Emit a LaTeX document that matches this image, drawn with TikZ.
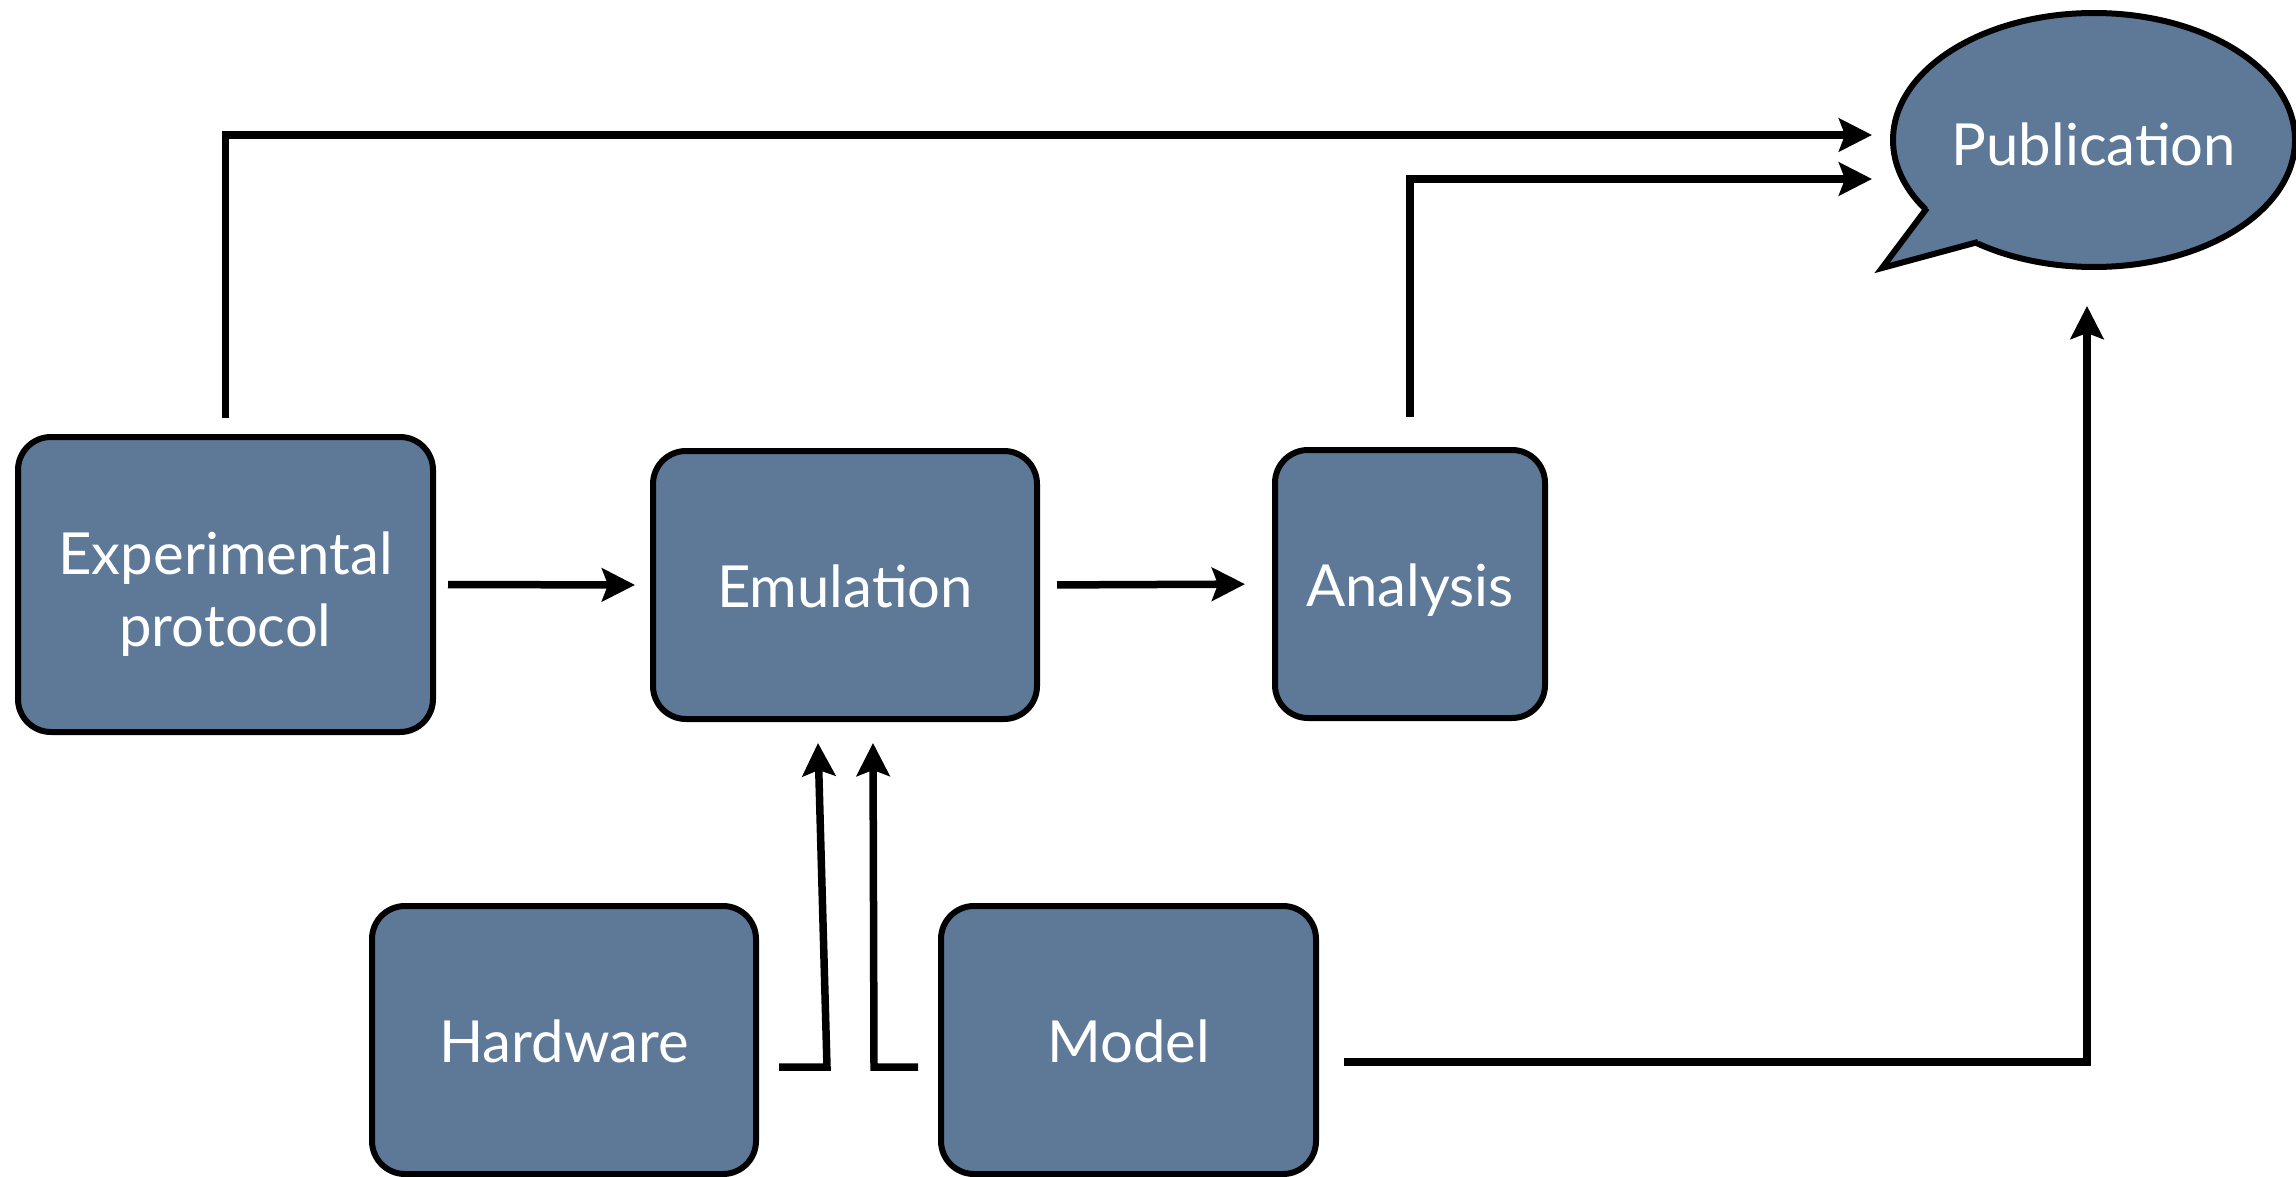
\documentclass[tikz,border=0pt]{standalone}
\usepackage{fontspec}
\setmainfont{Lato}
\usetikzlibrary{arrows.meta,shapes.geometric}

\definecolor{boxblue}{RGB}{93,121,151}

\begin{document}
\begin{tikzpicture}[x=1pt,y=-1pt,
  label font/.style={font=\fontsize{58}{72}\selectfont},
  stage/.style={rectangle, rounded corners=33, draw=black, line width=6,
    fill=boxblue, text=white, align=center, label font,
    text height=45, text depth=0},
  arr/.style={line width=7.5, line join=miter,
    -{Stealth[length=33pt,width=33pt,inset=6pt]}}]
  \useasboundingbox (0,0) rectangle (2296,1177);

  % processing stages
  \node[stage, minimum width=415, minimum height=295, text height=, text depth=]
    (exp) at (225.5,584.5) {\rule{0pt}{61pt}Experimental\\protocol};
  \node[stage, minimum width=384, minimum height=268] (emu) at (845,585) {Emulation};
  \node[stage, minimum width=270, minimum height=268] (ana) at (1410,584) {Analysis};
  \node[stage, minimum width=384, minimum height=268] (hw) at (564,1040) {Hardware};
  \node[stage, minimum width=375, minimum height=268] (model) at (1128.5,1040) {Model};

  % speech bubble: ellipse body plus a tail towards the lower left
  \node[ellipse, draw=black, line width=6, fill=boxblue,
        minimum width=402, minimum height=254, inner sep=0] (pub) at (2094,140) {};
  \fill[boxblue] (1940,198) -- (1927,208) -- (1882,268) -- (1978,242) -- (1992,222) -- cycle;
  \draw[line width=6, line join=miter] (1927,208) -- (1882,268) -- (1978,242);
  \node[text=white, label font] (publabel) at ([yshift=-4]pub.center) {Publication};

  % arrow targets at the bubble
  \coordinate (pin1) at (1872,135);
  \coordinate (pin2) at (1872,179);

  % connectors
  \draw[arr, shorten <=16] (exp.north) |- (pin1);
  \draw[arr, shorten <=30] (ana.north) |- (pin2);
  \draw[arr, shorten <=12, shorten >=15] (exp.east) -- (emu.west);
  \draw[arr, shorten <=17, shorten >=27] (emu.east) -- (ana.west);
  \draw[arr] ([shift={(20,27)}]hw.east) -- ++(48,0) -- ([shift={(-27,21)}]emu.south);
  \draw[arr] ([shift={(-20,27)}]model.west) -- ++(-44,0) -- ([shift={(28,21)}]emu.south);
  \draw[arr] ([shift={(25,22)}]model.east) -| ([shift={(-7,36)}]pub.south);
\end{tikzpicture}
\end{document}
